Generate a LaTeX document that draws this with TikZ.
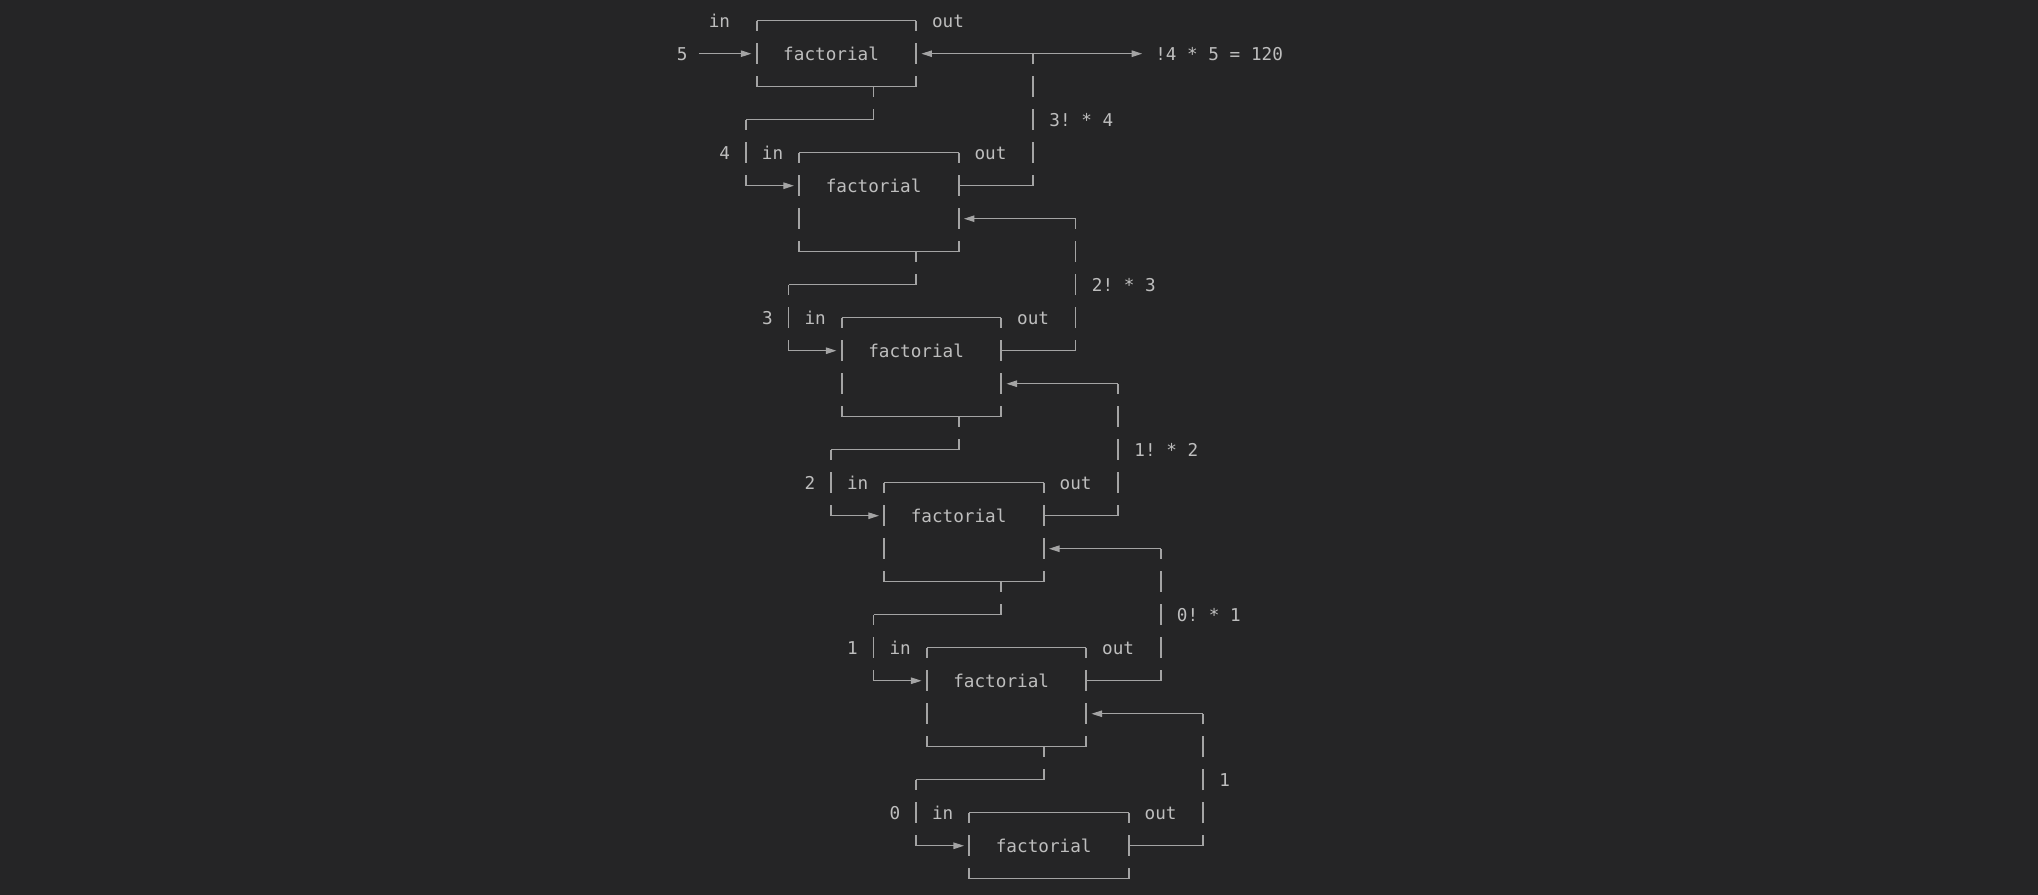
\documentclass[tikz,border=0pt]{standalone}
\usepackage{fontspec}
\usepackage{tikz}
\usetikzlibrary{arrows.meta}
\newfontfamily\codefont{DejaVu Sans Mono}
\definecolor{bgcol}{HTML}{252526}
\definecolor{txtcol}{HTML}{BEBEBE}
\definecolor{linecol}{HTML}{A4A4A4}
\tikzset{
  txt/.style={font=\fontsize{10.05pt}{12pt}\codefont\frenchspacing, text=txtcol, inner sep=0pt, anchor=base, yshift=-0.126cm},
  hbar/.style={draw=linecol, line width=0.022cm},
  vbar/.style={draw=linecol, line width=0.034cm, dash pattern=on 0.42cm off 0.24cm, dash phase=0.21cm},
  arr/.style={-{Triangle[length=0.21cm,width=0.13cm]}, shorten >=0.1063cm},
}

\begin{document}
\begin{tikzpicture}[x=0.2126cm, y=-0.66cm]
          \fill[bgcol] (-71.18,-0.627) rectangle (120.53,26.49);
          \foreach \k/\ytop/\ybot/\yret in {0/0/2/1, 1/4/7/6, 2/9/12/11, 3/14/17/16, 4/19/22/21, 5/24/26/25}{
            \coordinate (tl\k) at (4*\k,\ytop);
            \coordinate (tr\k) at (4*\k+15,\ytop);
            \coordinate (bl\k) at (4*\k,\ybot);
            \coordinate (br\k) at (4*\k+15,\ybot);
            \coordinate (inport\k) at (4*\k,\ytop+1);
            \coordinate (outport\k) at (4*\k+15,\ytop+1);
            \coordinate (retport\k) at (4*\k+15,\yret);
            \coordinate (down\k) at (4*\k+11,\ybot);
            \draw[hbar] (tl\k) -- (tr\k);
            \draw[hbar] (bl\k) -- (br\k);
            \draw[vbar] (tl\k) -- (bl\k);
            \draw[vbar] (tr\k) -- (br\k);
            \node[txt] (fact\k) at (4*\k+7,\ytop+1) {factorial};
            \node[txt] (out\k) at (4*\k+18,\ytop) {out};}
          \node[txt] (num0) at (-7,1) {5};
          \node[txt] (in0) at (-3.5,0) {in};
          \draw[hbar,arr,shorten <=0.2126cm] (num0.east |- inport0) -- (inport0);
          \foreach \k/\ytop/\n in {1/4/4, 2/9/3, 3/14/2, 4/19/1, 5/24/0}{
            \pgfmathtruncatemacro{\p}{\k-1}
            \coordinate (drop\k) at (4*\k+7,\ytop-1);
            \coordinate (turn\k) at (4*\k-5,\ytop-1);
            \coordinate (feed\k) at (4*\k-5,\ytop+1);
            \draw[vbar] (down\p) -- (drop\k);
            \draw[hbar] (drop\k) -- (turn\k);
            \draw[vbar] (turn\k) -- (feed\k);
            \draw[hbar,arr] (feed\k) -- (inport\k);
            \node[txt] (num\k) at (4*\k-7,\ytop) {\n};
            \node[txt] (in\k) at (4*\k-2.5,\ytop) {in};}
          \foreach \k/\yret/\yrise/\val in {0/1/5/{3! * 4}, 1/6/10/{2! * 3}, 2/11/15/{1! * 2}, 3/16/20/{0! * 1}, 4/21/25/1}{
            \pgfmathtruncatemacro{\q}{\k+1}
            \coordinate (rise\k) at (4*\k+26,\yrise);
            \coordinate (top\k) at (4*\k+26,\yret);
            \draw[hbar] (outport\q) -- (rise\k);
            \draw[vbar] (rise\k) -- (top\k);
            \draw[hbar,arr] (top\k) -- (retport\k);
            \node[txt,anchor=base west] (val\k) at (4*\k+27.5,\yret+2) {\val};}
          \node[txt] (result) at (43.5,1) {!4 * 5 = 120};
          \draw[hbar,arr,shorten >=0.255cm] (top0) -- (result.west |- top0);
        \end{tikzpicture}
\end{document}
